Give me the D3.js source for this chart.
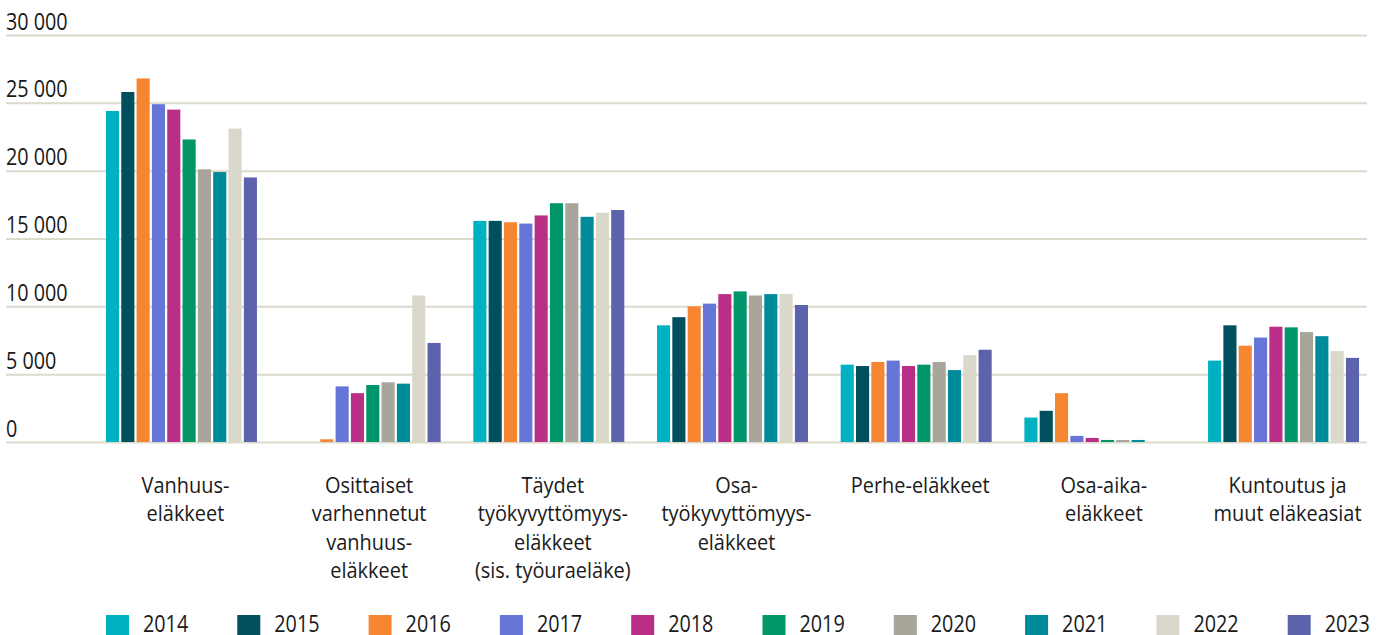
<!DOCTYPE html>
<html>
<head>
<meta charset="utf-8">
<script src="https://cdn.jsdelivr.net/npm/d3@7"></script>
<style>
	body { margin: 0; background: #fff; }
	text { font-family: "Open Sans", "Noto Sans", sans-serif; fill: #1a1a1a; }
</style>
</head>
<body>
<svg id="svgchart"></svg>
<script>
'use strict'

const categories = [
	['Vanhuus-', 'eläkkeet'],
	['Osittaiset', 'varhennetut', 'vanhuus-', 'eläkkeet'],
	['Täydet', 'työkyvyttömyys-', 'eläkkeet', '(sis. työuraeläke)'],
	['Osa-', 'työkyvyttömyys-', 'eläkkeet'],
	['Perhe-eläkkeet'],
	['Osa-aika-', 'eläkkeet'],
	['Kuntoutus ja', 'muut eläkeasiat']
]
const years = ['2014', '2015', '2016', '2017', '2018', '2019', '2020', '2021', '2022', '2023']
// one array per category, values by year
const vanhuus = [24400, 25800, 26800, 24900, 24500, 22300, 20100, 19900, 23100, 19500]
const osittaiset = [0, 0, 200, 4100, 3600, 4200, 4400, 4300, 10800, 7300]
const taydet = [16300, 16300, 16200, 16100, 16700, 17600, 17600, 16600, 16900, 17100]
const osaTyokyvyttomyys = [8600, 9200, 10000, 10200, 10900, 11100, 10800, 10900, 10900, 10100]
const perhe = [5700, 5600, 5900, 6000, 5600, 5700, 5900, 5300, 6400, 6800]
const osaAika = [1800, 2300, 3600, 450, 300, 150, 150, 150, 0, 0]
const kuntoutus = [6000, 8600, 7100, 7700, 8500, 8450, 8100, 7800, 6700, 6200]
const yTicks = [0, 5000, 10000, 15000, 20000, 25000, 30000]
const colors = ['#00b1c1', '#004f5f', '#f78632', '#6676d8', '#bb2e87', '#00966a', '#a8a69a', '#008b9b', '#dad7cb', '#5c62ab']

const series = [vanhuus, osittaiset, taydet, osaTyokyvyttomyys, perhe, osaAika, kuntoutus]

const chartWidth = 1381
const chartHeight = 635

const svgchart = d3.select('#svgchart')
	.attr('width', chartWidth)
	.attr('height', chartHeight)

// y scale: zero line at 442, top grid line at 35
const y = d3.scaleLinear().domain([0, 30000]).range([442, 35])

// x scales: one band per category, one sub band per year
const x0 = d3.scaleBand()
	.domain(d3.range(categories.length))
	.range([89.6, 1375.4])
	.paddingInner(0.178)
	.paddingOuter(0.089)
const x1 = d3.scaleBand()
	.domain(years)
	.range([0, x0.bandwidth()])
	.paddingInner(0.145)

const fmt = (d) => d3.format(',')(d).replace(/,/g, ' ')

// grid lines + tick labels
const yAxis = svgchart.append('g')
	.attr('transform', 'translate(6,0)')
	.call(d3.axisRight(y).tickValues(yTicks).tickSize(1361).tickFormat(fmt))
yAxis.select('.domain').remove()
yAxis.selectAll('.tick line')
	.attr('stroke', '#dcd9cd')
	.attr('stroke-width', 2)
yAxis.selectAll('.tick text')
	.attr('x', 0)
	.attr('dy', -6)
	.attr('text-anchor', 'start')
	.attr('transform', 'scale(0.86,1)')
	.style('font-family', '"Open Sans", sans-serif')
	.style('font-size', '23px')
	.style('fill', '#1a1a1a')

// bars
const group = svgchart.selectAll('g.group')
	.data(series)
	.enter().append('g')
	.attr('class', 'group')
	.attr('transform', (d, i) => 'translate(' + x0(i) + ',0)')

group.selectAll('rect')
	.data((d) => d.map((v, j) => ({ year: years[j], value: v })))
	.enter().append('rect')
	.attr('x', (d) => x1(d.year))
	.attr('y', (d) => y(d.value))
	.attr('width', x1.bandwidth())
	.attr('height', (d) => y(0) - y(d.value))
	.attr('fill', (d, j) => colors[j])

// category labels
const catLabel = svgchart.selectAll('text.cat')
	.data(categories)
	.enter().append('text')
	.attr('class', 'cat')
	.attr('text-anchor', 'middle')
	.attr('transform', (d, i) => 'translate(' + (x0(i) + x0.bandwidth() / 2 + 4) + ',493) scale(0.95,1)')
	.style('font-size', '21px')

catLabel.selectAll('tspan')
	.data((d) => d)
	.enter().append('tspan')
	.attr('x', 0)
	.attr('dy', (d, i) => i === 0 ? 0 : 28.5)
	.text((d) => d)

// legend
const legend = svgchart.selectAll('g.legend')
	.data(years)
	.enter().append('g')
	.attr('class', 'legend')
	.attr('transform', (d, i) => 'translate(' + (106 + i * 131.3) + ',615)')

legend.append('rect')
	.attr('width', 23)
	.attr('height', 23)
	.attr('fill', (d, i) => colors[i])

legend.append('text')
	.attr('transform', 'translate(37,17) scale(0.86,1)')
	.style('font-size', '23px')
	.text((d) => d)
</script>
</body>
</html>
